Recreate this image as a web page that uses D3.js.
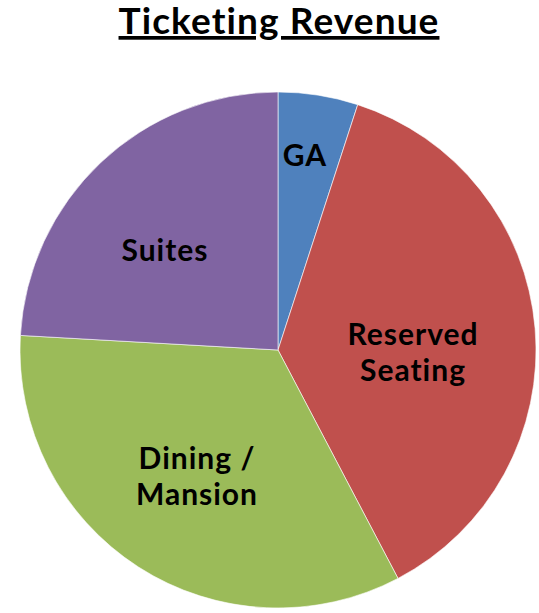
<!DOCTYPE html>
<html><head><meta charset="utf-8">
<script src="https://cdn.jsdelivr.net/npm/d3@7"></script>
<style>body{margin:0;background:#fff}</style>
</head><body>
<svg id="c" width="539" height="613"></svg>
<script>
const categories = ["GA", "Reserved Seating", "Dining / Mansion", "Suites"];
const values = [5.0, 37.3, 33.6, 24.1];
const colors = ["#4F81BD", "#C0504D", "#9BBB59", "#8064A2"];
const labelLines = [["GA"], ["Reserved", "Seating"], ["Dining /", "Mansion"], ["Suites"]];
const labelPos = [[305,155],[413,352],[197,476],[165,250]];

const svg = d3.select("#c");
const font = "Lato, 'Open Sans', sans-serif";
const cx = 278, cy = 350, r = 258;

svg.append("text").attr("x", 279).attr("y", 34).attr("text-anchor","middle")
  .attr("font-family", font).attr("font-weight", "bold").attr("font-size", 37)
  .attr("letter-spacing", 1.1)
  .attr("text-decoration","underline").attr("fill","#000").text("Ticketing Revenue");

const pie = d3.pie().sort(null).value(d => d)(values);
const arc = d3.arc().innerRadius(0).outerRadius(r);
const g = svg.append("g").attr("transform", `translate(${cx},${cy})`);
g.selectAll("path").data(pie).join("path")
  .attr("d", arc).attr("fill", (d,i) => colors[i])
  .attr("stroke", "#fff").attr("stroke-width", 0.6);

labelLines.forEach((lines, i) => {
  const [x, y] = labelPos[i];
  const t = svg.append("text").attr("text-anchor","middle")
    .attr("font-family", font).attr("font-weight", "bold").attr("font-size", 30)
    .attr("letter-spacing", 1).attr("fill","#000");
  const lh = 36;
  lines.forEach((ln, j) => {
    t.append("tspan").attr("x", x).attr("y", y + (j - (lines.length-1)/2)*lh + 11).text(ln);
  });
});
</script>
</body></html>
